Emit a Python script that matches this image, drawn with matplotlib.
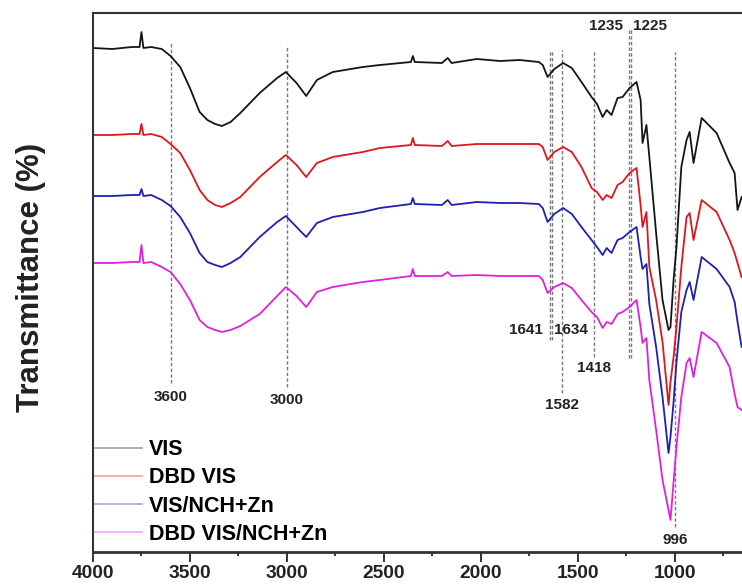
import matplotlib
matplotlib.use("Agg")
import matplotlib.pyplot as plt
from matplotlib.ticker import MultipleLocator, NullLocator

plt.rcParams['font.family'] = ['Liberation Sans', 'DejaVu Sans']

# Wavenumber (cm-1) sample points shared by all spectra
wavenumber = [4000, 3900, 3800, 3760, 3750, 3740, 3700, 3645, 3600, 3550,
              3500, 3450, 3410, 3370, 3335, 3290, 3240, 3140, 3050, 3005,
              2950, 2900, 2845, 2763, 2608, 2520, 2360, 2350, 2340, 2200,
              2170, 2150, 2020, 1900, 1800, 1700, 1680, 1655, 1620, 1575,
              1530, 1480, 1428, 1400, 1371, 1350, 1325, 1294, 1268, 1232,
              1196, 1175, 1165, 1145, 1130, 1095, 1062, 1031, 1021, 1005,
              990, 965, 938, 922, 902, 860, 783, 716, 690, 675, 654]

# Transmittance (arbitrary units, stacked spectra)
t_vis = [504, 503, 505, 505, 520, 504, 505, 503, 496, 485,
         464, 440, 432, 428, 426, 430, 439, 459, 474, 480,
         469, 456, 472, 480, 485, 487, 490, 496, 490, 489,
         494, 489, 493, 491, 492, 490, 487, 475, 483, 489,
         484, 470, 455, 448, 435, 442, 437, 454, 455, 464,
         470, 452, 409, 427, 395, 319, 252, 222, 225, 272,
         305, 385, 412, 420, 389, 434, 419, 389, 379, 342, 355]

t_dbd_vis = [417, 417, 418, 418, 428, 417, 418, 415, 408, 399,
             382, 362, 352, 347, 345, 349, 355, 375, 390, 397,
             387, 375, 389, 395, 400, 404, 407, 414, 407, 406,
             411, 406, 408, 408, 408, 408, 405, 392, 400, 405,
             400, 385, 364, 360, 352, 357, 354, 367, 370, 379,
             384, 347, 325, 340, 285, 252, 210, 147, 170, 195,
             225, 285, 335, 339, 312, 352, 340, 312, 299, 289, 275]

t_vis_nch_zn = [356, 356, 357, 357, 363, 356, 357, 352, 346, 335,
                319, 299, 290, 287, 285, 289, 295, 315, 330, 336,
                325, 315, 329, 335, 340, 344, 348, 354, 348, 347,
                352, 347, 350, 349, 349, 348, 344, 330, 338, 344,
                338, 325, 312, 305, 297, 304, 299, 312, 314, 320,
                325, 295, 283, 288, 248, 205, 155, 99, 115, 150,
                190, 240, 262, 270, 252, 295, 283, 265, 250, 230, 205]

t_dbd_vis_nch_zn = [289, 289, 290, 290, 307, 289, 290, 285, 280, 268,
                    252, 232, 225, 222, 220, 222, 226, 238, 256, 265,
                    256, 245, 260, 265, 270, 272, 276, 283, 276, 276,
                    280, 276, 277, 276, 276, 276, 272, 259, 265, 269,
                    264, 252, 240, 235, 224, 230, 228, 238, 240, 245,
                    252, 225, 209, 214, 172, 122, 72, 42, 32, 70,
                    105, 155, 189, 194, 175, 220, 209, 185, 158, 145, 142]

series_labels = ["VIS", "DBD VIS", "VIS/NCH+Zn", "DBD VIS/NCH+Zn"]
series_colors = ["#151515", "#e0161c", "#1f1fb0", "#e020e0"]

# Marked band positions (cm-1) and their labels
peak_wn = [3600, 3000, 1641, 1634, 1582, 1418, 1235, 1225, 996]
peak_labels = ["3600", "3000", "1641", "1634", "1582", "1418", "1235", "1225", "996"]

# guide-line extents and label placement (layout, in plot y units)
line_top = [510, 507, 502, 502, 502, 502, 524, 524, 500]
line_bot = [169, 165, 212, 212, 159, 195, 194, 194, 25]
label_y = [155, 152, 222, 222, 147, 184, 526, 526, 12]
label_ha = ["center", "center", "right", "left", "center", "center", "right", "left", "center"]
label_dx = [0, 0, -5, 2, 0, 0, -4.5, 1.5, 0]

W, H = 742, 585
fig = plt.figure(figsize=(W / 100, H / 100), dpi=100)
ax_left, ax_right, ax_top, ax_bot = 93, 742, 13, 552
ax = fig.add_axes([ax_left / W, 1 - ax_bot / H, (ax_right - ax_left) / W, (ax_bot - ax_top) / H])

for i, (wl, wh, ly, ha, dx, lab) in enumerate(zip(line_top, line_bot, label_y, label_ha, label_dx, peak_labels)):
    ax.vlines(peak_wn[i], wh, wl, colors="#7a7a7a", linestyles=(0, (2.5, 1.6)), linewidth=1.0, zorder=1)
    ax.annotate(lab, xy=(peak_wn[i], ly), xytext=(dx, 0), textcoords="offset points",
                ha=ha, va="center", fontsize=11, fontweight="bold", color="#222222")

for t, lab, col in zip([t_vis, t_dbd_vis, t_vis_nch_zn, t_dbd_vis_nch_zn], series_labels, series_colors):
    ax.plot(wavenumber, t, color=col, lw=1.3, label=lab, zorder=2)

ax.set_xlim(4000, 652)
ax.set_ylim(0, ax_bot - ax_top)
ax.xaxis.set_major_locator(MultipleLocator(500))
ax.xaxis.set_minor_locator(MultipleLocator(250))
ax.yaxis.set_major_locator(NullLocator())
ax.tick_params(axis="x", which="major", direction="out", length=7, width=1.3, pad=2,
               labelsize=13.8, colors="#222222")
ax.tick_params(axis="x", which="minor", direction="out", length=3, width=1.1)
for lbl in ax.get_xticklabels():
    lbl.set_fontweight("bold")
for side in ["left", "top", "bottom"]:
    ax.spines[side].set_color("#333333")
    ax.spines[side].set_linewidth(1.5)
ax.spines["bottom"].set_linewidth(2.0)
ax.spines["right"].set_visible(False)

ax.set_ylabel("Transmittance (%)", fontsize=22.5, fontweight="bold", color="#222222")
ax.yaxis.set_label_coords(-47 / (ax_right - ax_left), 0.51)

leg = ax.legend(loc="upper left", bbox_to_anchor=(0.003, 0.209), frameon=False,
                prop={"weight": "bold", "size": 15.5}, handlelength=2.2,
                handletextpad=0.3, labelspacing=0.33, borderpad=0, borderaxespad=0)
for h in leg.legend_handles:
    h.set_alpha(0.4)
    h.set_linewidth(1.2)

fig.savefig("out.png", dpi=100)
